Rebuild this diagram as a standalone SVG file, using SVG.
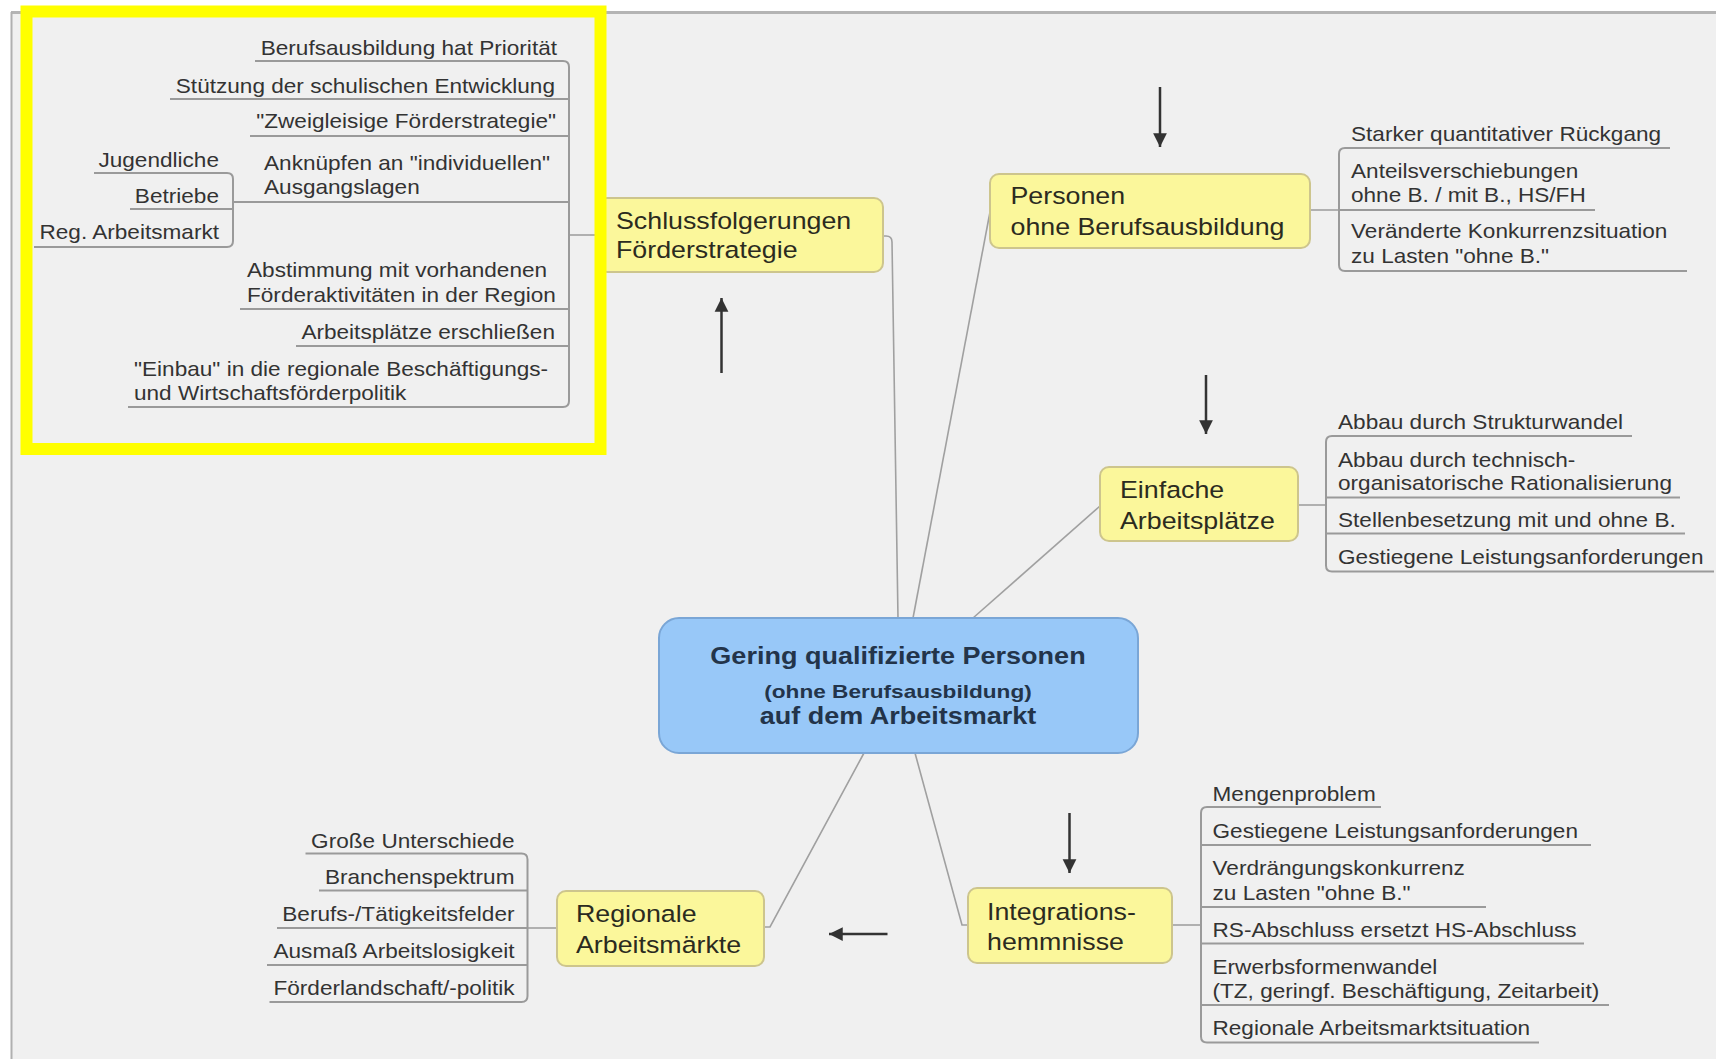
<svg xmlns="http://www.w3.org/2000/svg" width="1716" height="1059" viewBox="0 0 1716 1059">
<defs>
<style>
.s{font-family:"Liberation Sans",Arial,sans-serif;font-size:20px;fill:#333333}
.e{text-anchor:end}
.n{font-family:"Liberation Sans",Arial,sans-serif;font-size:23.5px;fill:#2b2b1f}
.c{font-family:"Liberation Sans",Arial,sans-serif;font-weight:bold;fill:#23344a;text-anchor:middle}
.ynode{fill:#fbf79b;stroke:#cdc58d;stroke-width:2}
.cnode{fill:#98c8f8;stroke:#7aa6d6;stroke-width:2}
.br{fill:none;stroke:#9a9a9a;stroke-width:2}
.cn{fill:none;stroke:#a0a0a0;stroke-width:1.6}
.ar{fill:none;stroke:#333333;stroke-width:2.5;marker-end:url(#ah)}
</style>
<marker id="ah" viewBox="0 0 10 10" refX="10" refY="5" markerWidth="5.5" markerHeight="6.5" markerUnits="strokeWidth" orient="auto">
<path d="M0,0 L10,5 L0,10 Z" fill="#333333"/>
</marker>
</defs>
<rect x="0" y="0" width="1716" height="1059" fill="#ffffff"/>
<rect x="11" y="12" width="1705" height="1047" fill="#f0f0f0"/>
<path d="M11 12.5 H1716" stroke="#b4b4b4" stroke-width="3"/>
<path d="M11.5 12 V1059" stroke="#b0b0b0" stroke-width="2"/>

<g id="connectors">
<path class="cn" d="M898 618 L892 242 Q892 236 886 236 H880"/>
<path class="cn" d="M569 235 H600"/>
<path class="cn" d="M913 618 L990 212"/>
<path class="cn" d="M1310 210 H1339"/>
<path class="cn" d="M973 618 L1100 506"/>
<path class="cn" d="M1298 505 H1326"/>
<path class="cn" d="M915 753 L962 925 H968"/>
<path class="cn" d="M1172 925 H1201"/>
<path class="cn" d="M864 753 L770 927 H764"/>
<path class="cn" d="M557 928 H527.5"/>
<path class="br" d="M255 61 H563 Q569 61 569 67 V401 Q569 407 563 407 H128 M170 99 H569 M250 136 H569 M233 202 H569 M240 309 H569 M296 346 H569"/>
<path class="br" d="M94 173 H227 Q233 173 233 179 V241 Q233 247 227 247 H34 M130 209 H233"/>
<path class="br" d="M1670 148 H1345 Q1339 148 1339 154 V265 Q1339 271 1345 271 H1687 M1339 210 H1595"/>
<path class="br" d="M1632 436 H1332 Q1326 436 1326 442 V565.5 Q1326 571.5 1332 571.5 H1714 M1326 497.5 H1680 M1326 533.5 H1685"/>
<path class="br" d="M1381 807 H1207 Q1201 807 1201 813 V1036.5 Q1201 1042.5 1207 1042.5 H1539 M1201 845 H1591 M1201 907 H1486 M1201 943.5 H1584 M1201 1005 H1609"/>
<path class="br" d="M305.5 853.5 H521.5 Q527.5 853.5 527.5 859.5 V996 Q527.5 1002 521.5 1002 H269.5 M319 890.5 H527.5 M277 928 H527.5 M267 965 H527.5"/>
</g>

<g id="node-schluss">
<rect class="ynode" x="598" y="198" width="285" height="74" rx="9"/>
<text class="n" transform="translate(616 229) scale(1.14 1)">Schlussfolgerungen</text>
<text class="n" transform="translate(616 258) scale(1.14 1)">Förderstrategie</text>
</g>
<g id="schluss-subtopics">
<text class="s e" transform="translate(557 55) scale(1.13 1)">Berufsausbildung hat Priorität</text>
<text class="s e" transform="translate(555 93) scale(1.13 1)">Stützung der schulischen Entwicklung</text>
<text class="s e" transform="translate(556 128) scale(1.13 1)">"Zweigleisige Förderstrategie"</text>
<text class="s" transform="translate(264 170) scale(1.13 1)">Anknüpfen an "individuellen"</text>
<text class="s" transform="translate(264 194) scale(1.13 1)">Ausgangslagen</text>
<text class="s" transform="translate(247 277) scale(1.13 1)">Abstimmung mit vorhandenen</text>
<text class="s" transform="translate(247 302) scale(1.13 1)">Förderaktivitäten in der Region</text>
<text class="s e" transform="translate(555 339) scale(1.13 1)">Arbeitsplätze erschließen</text>
<text class="s" transform="translate(134 376) scale(1.13 1)">"Einbau" in die regionale Beschäftigungs-</text>
<text class="s" transform="translate(134 400) scale(1.13 1)">und Wirtschaftsförderpolitik</text>
<text class="s e" transform="translate(219 167) scale(1.13 1)">Jugendliche</text>
<text class="s e" transform="translate(219 203) scale(1.13 1)">Betriebe</text>
<text class="s e" transform="translate(219 239) scale(1.13 1)">Reg. Arbeitsmarkt</text>
</g>

<g id="node-central">
<rect class="cnode" x="659" y="618" width="479" height="135" rx="20"/>
<text class="c" font-size="23.5" transform="translate(898 664) scale(1.15 1)">Gering qualifizierte Personen</text>
<text class="c" font-size="19" transform="translate(898 698) scale(1.19 1)">(ohne Berufsausbildung)</text>
<text class="c" font-size="23.5" transform="translate(898 724) scale(1.15 1)">auf dem Arbeitsmarkt</text>
</g>

<g id="node-personen">
<rect class="ynode" x="990" y="174" width="320" height="74" rx="9"/>
<text class="n" transform="translate(1010.5 204) scale(1.14 1)">Personen</text>
<text class="n" transform="translate(1010.5 235) scale(1.14 1)">ohne Berufsausbildung</text>
</g>
<g id="personen-subtopics">
<text class="s" transform="translate(1351 141) scale(1.13 1)">Starker quantitativer Rückgang</text>
<text class="s" transform="translate(1351 177.5) scale(1.13 1)">Anteilsverschiebungen</text>
<text class="s" transform="translate(1351 202) scale(1.13 1)">ohne B. / mit B., HS/FH</text>
<text class="s" transform="translate(1351 238) scale(1.13 1)">Veränderte Konkurrenzsituation</text>
<text class="s" transform="translate(1351 263) scale(1.13 1)">zu Lasten "ohne B."</text>
</g>

<g id="node-einfache">
<rect class="ynode" x="1100" y="467" width="198" height="74" rx="9"/>
<text class="n" transform="translate(1120 498) scale(1.14 1)">Einfache</text>
<text class="n" transform="translate(1120 528.5) scale(1.14 1)">Arbeitsplätze</text>
</g>
<g id="einfache-subtopics">
<text class="s" transform="translate(1338 429) scale(1.13 1)">Abbau durch Strukturwandel</text>
<text class="s" transform="translate(1338 466.5) scale(1.13 1)">Abbau durch technisch-</text>
<text class="s" transform="translate(1338 490) scale(1.13 1)">organisatorische Rationalisierung</text>
<text class="s" transform="translate(1338 527) scale(1.13 1)">Stellenbesetzung mit und ohne B.</text>
<text class="s" transform="translate(1338 564) scale(1.13 1)">Gestiegene Leistungsanforderungen</text>
</g>

<g id="node-integrations">
<rect class="ynode" x="968" y="888" width="204" height="75" rx="9"/>
<text class="n" transform="translate(987 920) scale(1.14 1)">Integrations-</text>
<text class="n" transform="translate(987 949.5) scale(1.14 1)">hemmnisse</text>
</g>
<g id="integrations-subtopics">
<text class="s" transform="translate(1212.5 801) scale(1.13 1)">Mengenproblem</text>
<text class="s" transform="translate(1212.5 838) scale(1.13 1)">Gestiegene Leistungsanforderungen</text>
<text class="s" transform="translate(1212.5 875) scale(1.13 1)">Verdrängungskonkurrenz</text>
<text class="s" transform="translate(1212.5 900) scale(1.13 1)">zu Lasten "ohne B."</text>
<text class="s" transform="translate(1212.5 937) scale(1.13 1)">RS-Abschluss ersetzt HS-Abschluss</text>
<text class="s" transform="translate(1212.5 974) scale(1.13 1)">Erwerbsformenwandel</text>
<text class="s" transform="translate(1212.5 997.5) scale(1.13 1)">(TZ, geringf. Beschäftigung, Zeitarbeit)</text>
<text class="s" transform="translate(1212.5 1035) scale(1.13 1)">Regionale Arbeitsmarktsituation</text>
</g>

<g id="node-regionale">
<rect class="ynode" x="557" y="891" width="207" height="75" rx="9"/>
<text class="n" transform="translate(576 922) scale(1.14 1)">Regionale</text>
<text class="n" transform="translate(576 952.5) scale(1.14 1)">Arbeitsmärkte</text>
</g>
<g id="regionale-subtopics">
<text class="s e" transform="translate(514.5 848) scale(1.13 1)">Große Unterschiede</text>
<text class="s e" transform="translate(514.5 883.5) scale(1.13 1)">Branchenspektrum</text>
<text class="s e" transform="translate(514.5 921) scale(1.13 1)">Berufs-/Tätigkeitsfelder</text>
<text class="s e" transform="translate(514.5 958) scale(1.13 1)">Ausmaß Arbeitslosigkeit</text>
<text class="s e" transform="translate(514.5 995) scale(1.13 1)">Förderlandschaft/-politik</text>
</g>

<g id="arrows">
<path class="ar" d="M721.5 373 V298"/>
<path class="ar" d="M1160 87 V147"/>
<path class="ar" d="M1206 375 V434"/>
<path class="ar" d="M1069.5 813 V873"/>
<path class="ar" d="M887.5 934 H829"/>
</g>

<rect id="highlight" x="26.5" y="11.5" width="574" height="437.5" fill="none" stroke="#ffff00" stroke-width="12"/>
</svg>
